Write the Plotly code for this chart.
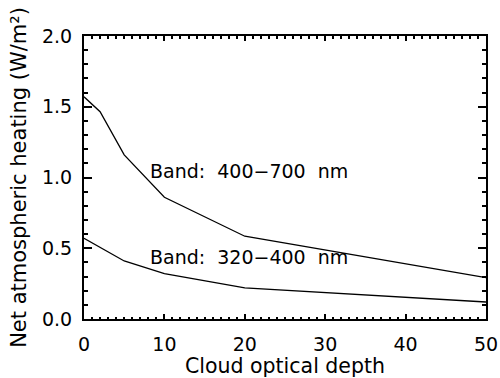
import plotly.graph_objects as go

# Net atmospheric heating vs. cloud optical depth for two spectral bands
depth_vis = [0, 2, 5, 10, 20, 50]
heating_vis = [1.57, 1.465, 1.16, 0.86, 0.585, 0.293]

depth_uva = [0, 5, 10, 20, 50]
heating_uva = [0.57, 0.41, 0.32, 0.22, 0.12]

band_labels = ["Band:\u00a0 400\u2212700\u00a0 nm", "Band:\u00a0 320\u2212400\u00a0 nm"]
label_x = [8, 8]
label_y = [1.045, 0.44]

x_ticks = [0, 10, 20, 30, 40, 50]
y_ticks = [0.0, 0.5, 1.0, 1.5, 2.0]

FONT = "DejaVu Sans"
SIZE = 19

fig = go.Figure()
for xs, ys in [(depth_vis, heating_vis), (depth_uva, heating_uva)]:
    fig.add_trace(go.Scatter(x=xs, y=ys, mode="lines",
                             line=dict(color="black", width=1.3),
                             showlegend=False))

for txt, lx, ly in zip(band_labels, label_x, label_y):
    fig.add_annotation(x=lx, y=ly, text=txt, showarrow=False,
                       xanchor="left", yanchor="middle",
                       font=dict(family=FONT, size=SIZE, color="black"))

fig.update_layout(
    width=500, height=378,
    margin=dict(l=84, r=14, t=36, b=59),
    paper_bgcolor="white", plot_bgcolor="white",
    font=dict(family=FONT, size=SIZE, color="black"),
)

fig.update_xaxes(
    range=[0, 50], tickvals=x_ticks, ticktext=[str(v) for v in x_ticks],
    automargin=False,
    showgrid=False, zeroline=False,
    showline=True, linecolor="black", linewidth=2, mirror="ticks",
    ticks="inside", ticklen=5, tickwidth=1.5, tickcolor="black",
    minor=dict(dtick=1, ticks="inside", ticklen=2.5, tickwidth=1.5, tickcolor="black"),
    ticklabelstandoff=7,
    tickfont=dict(family=FONT, size=SIZE, color="black"),
    title=dict(text="Cloud optical depth", standoff=9,
               font=dict(family=FONT, size=20.5, color="black")),
)

fig.update_yaxes(
    range=[0, 2], tickvals=y_ticks, ticktext=[f"{v:.1f}" for v in y_ticks],
    automargin=False,
    showgrid=False, zeroline=False,
    showline=True, linecolor="black", linewidth=2, mirror="ticks",
    ticks="inside", ticklen=8, tickwidth=2, tickcolor="black",
    minor=dict(dtick=0.1, ticks="inside", ticklen=4, tickwidth=2, tickcolor="black"),
    ticklabelstandoff=6,
    tickfont=dict(family=FONT, size=SIZE, color="black"),
    title=dict(text="Net atmospheric heating (W/m\u00b2)", standoff=10,
               font=dict(family=FONT, size=21, color="black")),
)

fig.write_html("out.html")
